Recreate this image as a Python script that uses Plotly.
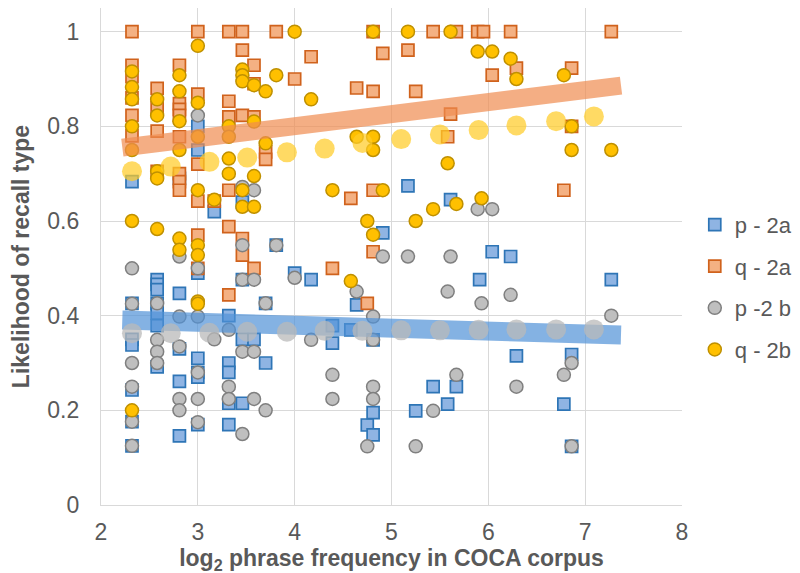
import plotly.graph_objects as go

# ---------------- data ----------------
# p - 2a (blue squares)
p2a_x = [2.32]*7 + [2.58]*7 + [2.81]*5 + [3.0]*7 + [3.17] + [3.32]*5 + [3.46]*4 + [3.58] + [3.70]*2 + [3.81] + [4.0] + [4.17] + [4.39]*2 + [4.58] + [4.64] + [4.75] + [4.81]*3 + [4.91] + [5.17] + [5.25] + [5.43] + [5.58] + [5.61] + [5.67] + [5.91] + [6.04] + [6.23] + [6.29] + [6.78] + [6.86]*2 + [7.27]
p2a_y = [0.683, 0.426, 0.35, 0.338, 0.243, 0.176, 0.125,
         0.476, 0.466, 0.455, 0.426, 0.405, 0.379, 0.292,
         0.69, 0.447, 0.33, 0.261, 0.146,
         0.80, 0.75, 0.49, 0.31, 0.28, 0.27, 0.17,
         0.62,
         0.40, 0.30, 0.28, 0.215, 0.17,
         0.64, 0.476, 0.35, 0.215,
         0.35,
         0.426, 0.30,
         0.549,
         0.49,
         0.476,
         0.379, 0.342,
         0.37,
         0.423,
         0.169,
         0.349, 0.195, 0.148,
         0.575,
         0.674,
         0.199,
         0.25,
         0.213,
         0.645,
         0.25,
         0.476,
         0.535,
         0.525,
         0.315,
         0.213,
         0.318, 0.124,
         0.476]

# q - 2a (orange squares)
q2a_x = [2.32]*6 + [2.58]*4 + [2.81]*8 + [3.0]*6 + [3.17] + [3.32]*6 + [3.46]*5 + [3.58]*4 + [3.70]*2 + [3.81] + [4.0] + [4.17] + [4.39] + [4.58] + [4.64] + [4.75] + [4.81]*4 + [4.91] + [5.17] + [5.25] + [5.43] + [5.58] + [5.61] + [5.67] + [5.89] + [5.95] + [6.04] + [6.23] + [6.29] + [6.78] + [6.86]*2 + [7.27]
q2a_y = [1.0, 0.929, 0.905, 0.86, 0.823, 0.78,
         0.88, 0.84, 0.79, 0.705,
         0.929, 0.848, 0.836, 0.823, 0.778, 0.70, 0.683, 0.665,
         1.0, 0.868, 0.72, 0.642, 0.57, 0.50,
         0.642,
         1.0, 0.853, 0.82, 0.665, 0.588, 0.444,
         1.0, 0.961, 0.823, 0.563, 0.528,
         0.929, 0.89, 0.82, 0.50,
         0.746, 0.73,
         1.0,
         0.90,
         0.947,
         0.50,
         0.648,
         0.881,
         0.426,
         1.0, 0.874, 0.665, 0.535,
         0.954,
         0.961,
         0.874,
         1.0,
         0.778,
         0.826,
         1.0,
         1.0,
         1.0,
         0.908,
         1.0,
         0.923,
         0.665,
         0.923, 0.80,
         1.0]

# p -2 b (grey circles)
p2b_x = [2.32]*6 + [2.58]*4 + [2.81]*5 + [3.0]*6 + [3.17] + [3.32]*3 + [3.46]*5 + [3.58]*4 + [3.70]*2 + [3.81] + [4.0] + [4.17] + [4.39]*2 + [4.64] + [4.75] + [4.81]*4 + [4.91] + [5.17] + [5.25] + [5.43] + [5.58] + [5.61] + [5.67] + [5.89] + [5.93] + [6.04] + [6.23] + [6.29] + [6.78] + [6.86]*2 + [7.27]
p2b_y = [0.50, 0.425, 0.30, 0.25, 0.176, 0.125,
         0.426, 0.349, 0.324, 0.30,
         0.525, 0.398, 0.335, 0.224, 0.20,
         0.823, 0.50, 0.398, 0.28, 0.224, 0.175,
         0.35,
         0.37, 0.25, 0.224,
         0.672, 0.549, 0.476, 0.324, 0.15,
         0.665, 0.476, 0.324, 0.224,
         0.426, 0.20,
         0.549,
         0.48,
         0.349,
         0.275, 0.224,
         0.451,
         0.124,
         0.398, 0.349, 0.25, 0.224,
         0.525,
         0.525,
         0.124,
         0.199,
         0.451,
         0.525,
         0.275,
         0.625,
         0.426,
         0.625,
         0.444,
         0.25,
         0.275,
         0.30, 0.124,
         0.40]

# q - 2b (yellow circles)
q2b_x = [2.32]*7 + [2.58]*5 + [2.81]*6 + [3.0]*8 + [3.17] + [3.32]*4 + [3.46]*5 + [3.58]*4 + [3.70]*2 + [3.81] + [4.0] + [4.17] + [4.39] + [4.58] + [4.64] + [4.75] + [4.81]*4 + [4.91] + [5.17] + [5.25] + [5.43] + [5.58] + [5.61] + [5.67] + [5.89] + [5.93] + [6.04] + [6.23] + [6.29] + [6.78] + [6.86]*2 + [7.27]
q2b_y = [0.916, 0.883, 0.857, 0.80, 0.75, 0.60, 0.20,
         0.857, 0.823, 0.705, 0.69, 0.583,
         0.908, 0.874, 0.811, 0.75, 0.563, 0.539,
         0.97, 0.85, 0.778, 0.665, 0.549, 0.528, 0.43, 0.425,
         0.645,
         0.80, 0.778, 0.732, 0.70,
         0.92, 0.908, 0.895, 0.665, 0.63,
         0.887, 0.81, 0.695, 0.63,
         0.874, 0.764,
         0.908,
         1.0,
         0.857,
         0.665,
         0.473,
         0.778,
         0.60,
         1.0, 0.778, 0.75, 0.571,
         0.665,
         1.0,
         0.60,
         0.625,
         0.722,
         1.0,
         0.636,
         0.958,
         0.648,
         0.958,
         0.943,
         0.90,
         0.908,
         0.80, 0.75,
         0.75]

# fitted values (large translucent circles)
fit_x = [2.32, 2.72, 3.12, 3.51, 3.92, 4.31, 4.70, 5.10, 5.50, 5.90, 6.29, 6.70, 7.09]
fit_q_y = [0.705, 0.715, 0.725, 0.734, 0.745, 0.753, 0.765, 0.773, 0.783, 0.792, 0.802, 0.811, 0.821]
fit_p_y = [0.363, 0.363, 0.364, 0.366, 0.366, 0.368, 0.368, 0.369, 0.369, 0.370, 0.371, 0.371, 0.371]

# trend lines
trend_x = [2.22, 7.37]
trend_q_y = [0.755, 0.886]
trend_p_y = [0.391, 0.359]

x_ticks = [2, 3, 4, 5, 6, 7, 8]
y_ticks = [0, 0.2, 0.4, 0.6, 0.8, 1]
y_tick_text = ["0", "0.2", "0.4", "0.6", "0.8", "1"]

# ---------------- figure ----------------
GREY = "#595959"
FONT = "Liberation Sans, Arial, sans-serif"
fig = go.Figure()

fig.add_trace(go.Scatter(x=p2a_x, y=p2a_y, mode="markers", name="p - 2a",
                         legendgroup="a",
                         marker=dict(symbol="square", size=12, color="#8FB4E3",
                                     line=dict(color="#2E75B6", width=1.7))))
fig.add_trace(go.Scatter(x=q2a_x, y=q2a_y, mode="markers", name="q - 2a",
                         legendgroup="b",
                         marker=dict(symbol="square", size=12, color="#F4B183",
                                     line=dict(color="#D0621C", width=1.7))))
fig.add_trace(go.Scatter(x=p2b_x, y=p2b_y, mode="markers", name="p -2 b",
                         legendgroup="c",
                         marker=dict(symbol="circle", size=13, color="#BFBFBF",
                                     line=dict(color="#7F7F7F", width=1.5))))
fig.add_trace(go.Scatter(x=q2b_x, y=q2b_y, mode="markers", name="q - 2b",
                         legendgroup="d",
                         marker=dict(symbol="circle", size=13, color="#FFC000",
                                     line=dict(color="#BF9000", width=1.5))))

fig.add_trace(go.Scatter(x=trend_x, y=trend_q_y, mode="lines", showlegend=False,
                         line=dict(color="rgba(240,140,80,0.7)", width=18), hoverinfo="skip"))
fig.add_trace(go.Scatter(x=trend_x, y=trend_p_y, mode="lines", showlegend=False,
                         line=dict(color="rgba(80,145,215,0.7)", width=19), hoverinfo="skip"))

fig.add_trace(go.Scatter(x=fit_x, y=fit_q_y, mode="markers", showlegend=False,
                         marker=dict(size=20, color="rgba(255,204,40,0.72)", line=dict(width=0)),
                         hoverinfo="skip"))
fig.add_trace(go.Scatter(x=fit_x, y=fit_p_y, mode="markers", showlegend=False,
                         marker=dict(size=20, color="rgba(185,185,185,0.75)", line=dict(width=0)),
                         hoverinfo="skip"))

fig.update_layout(
    width=800, height=573,
    margin=dict(l=93, r=126, t=0, b=76),
    paper_bgcolor="white", plot_bgcolor="white",
    font=dict(family=FONT, color=GREY, size=23),
    showlegend=True,
    legend=dict(x=1.022, xanchor="left", y=0.438, yanchor="middle",
                font=dict(size=22, color=GREY, family=FONT), tracegroupgap=10,
                itemwidth=30, bgcolor="rgba(0,0,0,0)"),
    xaxis=dict(range=[2, 8], tickvals=x_ticks, showgrid=True, gridcolor="#D9D9D9",
               gridwidth=1.3, zeroline=False, showline=True, linecolor="#D9D9D9",
               linewidth=1.3, ticks="outside", ticklen=6, tickcolor="rgba(0,0,0,0)",
               tickfont=dict(size=23, color=GREY, family=FONT),
               title=dict(text="<b>log<sub>2</sub> phrase frequency in COCA corpus</b>",
                          font=dict(size=23, color=GREY, family=FONT), standoff=4)),
    yaxis=dict(range=[0, 1.05], tickvals=y_ticks, ticktext=y_tick_text, showgrid=True,
               gridcolor="#D9D9D9", gridwidth=1.3, zeroline=False, showline=True,
               linecolor="#D9D9D9", linewidth=1.3, ticks="outside", ticklen=16,
               tickcolor="rgba(0,0,0,0)", tickfont=dict(size=23, color=GREY, family=FONT),
               title=dict(text="<b>Likelihood of recall type</b>",
                          font=dict(size=23, color=GREY, family=FONT), standoff=16)),
)

fig.write_html("out.html")
